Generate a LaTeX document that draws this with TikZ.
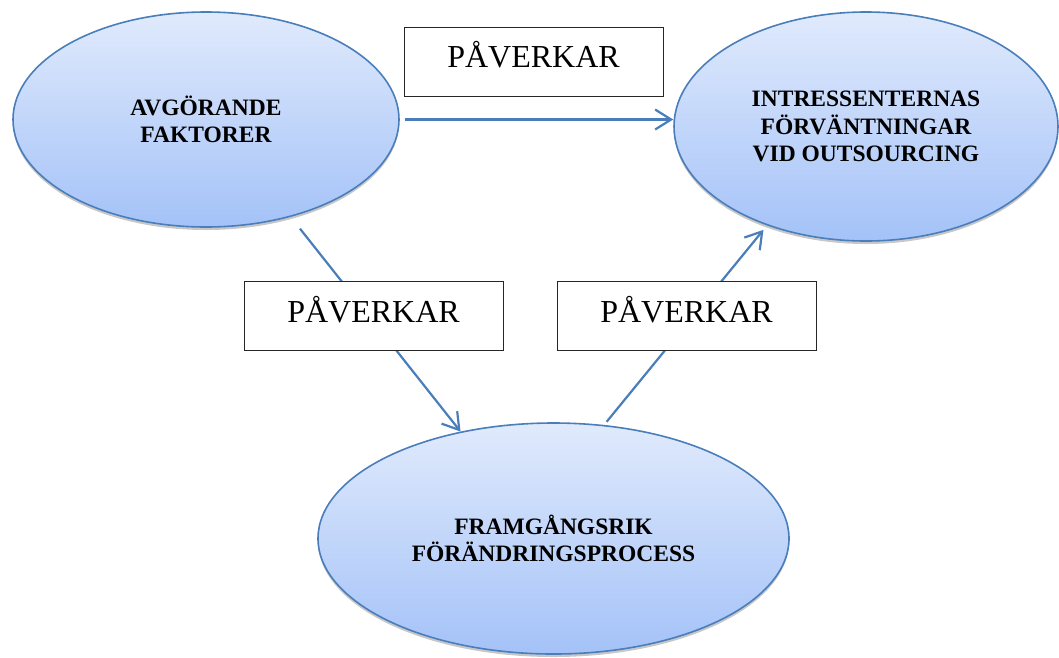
\documentclass[tikz,border=0pt]{standalone}
\usepackage{fontspec}
\setmainfont{Liberation Serif}
\usetikzlibrary{arrows.meta,shadows,shapes.geometric,calc}
\definecolor{edgeblue}{RGB}{74,126,187}
\definecolor{filltop}{RGB}{224,234,252}
\definecolor{fillbot}{RGB}{164,194,248}
\tikzset{
  oval/.style={ellipse, draw=edgeblue, line width=1.6pt,
    top color=filltop, bottom color=fillbot,
    drop shadow={shadow xshift=0pt, shadow yshift=-3pt, opacity=0.22, fill=black},
    font=\fontsize{23.5}{27.5}\selectfont\bfseries, align=center, inner sep=0pt},
  pbox/.style={draw=black!85, line width=0.9pt, fill=white,
    minimum width=259pt, minimum height=69pt, inner sep=0pt,
    font=\fontsize{32}{36}\selectfont, text height=20pt, text depth=8.6pt},
  conn/.style={draw=edgeblue, line width=2.2pt},
  arr/.style={conn, -{Straight Barb[length=16pt,width=20pt]}}
}
\begin{document}
\begin{tikzpicture}[x=1pt,y=-1pt]
\useasboundingbox (0,0) rectangle (1059,657);
% ovals
\node[oval, minimum width=386pt, minimum height=215pt] (A) at (206,119.5) {AVGÖRANDE\\FAKTORER};
\node[oval, minimum width=384pt, minimum height=229pt] (B) at (866,126.5) {INTRESSENTERNAS\\FÖRVÄNTNINGAR\\VID OUTSOURCING};
\node[oval, minimum width=471pt, minimum height=231pt] (C) at (553.5,538.5) {FRAMGÅNGSRIK\\FÖRÄNDRINGSPROCESS};
% connectors
\draw[arr, shorten <=5pt] (A.east) -- (A.east -| B.west);
\draw[arr, shorten <=15pt] (A.311) -- (C.131);
\draw[arr, shorten <=4pt, shorten >=5.7pt] (C.66) -- (B.225);
% boxes
\node[pbox] (P1) at (533.5,61.5) {PÅVERKAR};
\node[pbox] (P2) at (373.5,316.3) {PÅVERKAR};
\node[pbox] (P3) at (686.5,316.3) {PÅVERKAR};
\end{tikzpicture}
\end{document}
